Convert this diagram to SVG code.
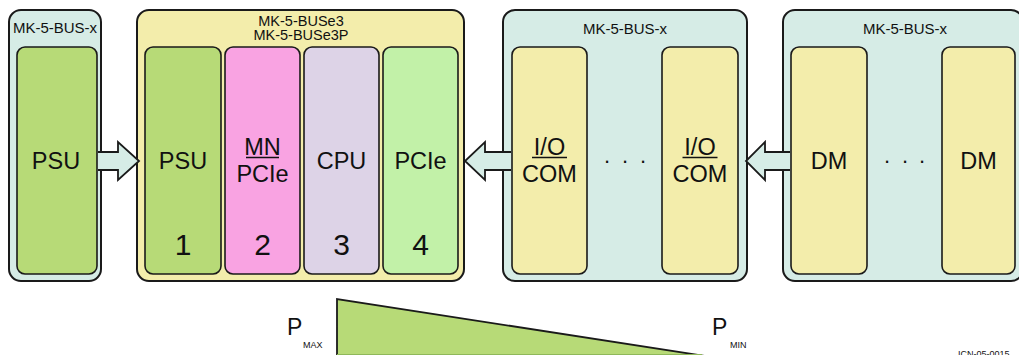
<svg xmlns="http://www.w3.org/2000/svg" width="1019" height="355" viewBox="0 0 1019 355">
<style>
text{font-family:"Liberation Sans",Arial,sans-serif;fill:#111}
.outer{stroke:#1a1a1a;stroke-width:2}
.inner{stroke:#1a1a1a;stroke-width:1.6}
.blue{fill:#d6ece6}
.yel{fill:#f3edab}
.psu{fill:#b7da77}
.mn{fill:#f9a3e2}
.cpu{fill:#ddd3e7}
.pcie{fill:#c2f1a8}
.ttl{font-size:15px;text-anchor:middle}
.ttl2{font-size:14.5px;text-anchor:middle}
.lbl{font-size:23.5px;text-anchor:middle}
.num{font-size:30px;text-anchor:middle}
.dots{font-size:22px;text-anchor:middle}
.ul{stroke:#111;stroke-width:1.7}
.arw{fill:#d6ece6;stroke:none}
.arwl{fill:none;stroke:#1a1a1a;stroke-width:1.8;stroke-linejoin:miter}
</style>
<g id="bus-left">
<rect class="outer blue" x="9" y="10" width="92" height="271" rx="12"/>
<text class="ttl" x="55" y="33">MK-5-BUS-x</text>
<g id="psu-left">
<rect class="inner psu" x="17" y="47" width="80" height="227" rx="8"/>
<text class="lbl" x="56" y="169">PSU</text>
</g>
</g>
<g id="bus-e3">
<rect class="outer yel" x="137" y="10" width="327" height="271" rx="12"/>
<text class="ttl2" x="301" y="26">MK-5-BUSe3</text>
<text class="ttl2" x="301" y="40">MK-5-BUSe3P</text>
<g id="slot1">
<rect class="inner psu" x="145" y="47" width="76" height="227" rx="8"/>
<text class="lbl" x="183" y="169">PSU</text>
<text class="num" x="183" y="255">1</text>
</g>
<g id="slot2">
<rect class="inner mn" x="225" y="47" width="75" height="227" rx="8"/>
<text class="lbl" x="262.5" y="155">MN</text>
<line class="ul" x1="246" y1="157.5" x2="279" y2="157.5"/>
<text class="lbl" x="262.5" y="182">PCIe</text>
<text class="num" x="262.5" y="255">2</text>
</g>
<g id="slot3">
<rect class="inner cpu" x="304" y="47" width="75" height="227" rx="8"/>
<text class="lbl" x="341.5" y="169">CPU</text>
<text class="num" x="341.5" y="255">3</text>
</g>
<g id="slot4">
<rect class="inner pcie" x="383" y="47" width="75" height="227" rx="8"/>
<text class="lbl" x="420.5" y="169">PCIe</text>
<text class="num" x="420.5" y="255">4</text>
</g>
</g>
<g id="bus-io">
<rect class="outer blue" x="503" y="10" width="244" height="271" rx="12"/>
<text class="ttl" x="625" y="34">MK-5-BUS-x</text>
<g id="io1">
<rect class="inner yel" x="512" y="47" width="75" height="227" rx="8"/>
<text class="lbl" x="549.5" y="155">I/O</text>
<line class="ul" x1="532" y1="157.5" x2="567" y2="157.5"/>
<text class="lbl" x="549.5" y="182">COM</text>
</g>
<text class="dots" x="607 625 643" y="163">...</text>
<g id="io2">
<rect class="inner yel" x="662" y="47" width="76" height="227" rx="8"/>
<text class="lbl" x="700" y="155">I/O</text>
<line class="ul" x1="682.5" y1="157.5" x2="717.5" y2="157.5"/>
<text class="lbl" x="700" y="182">COM</text>
</g>
</g>
<g id="bus-dm">
<rect class="outer blue" x="783" y="10" width="240" height="271" rx="12"/>
<text class="ttl" x="905" y="34">MK-5-BUS-x</text>
<g id="dm1">
<rect class="inner yel" x="791" y="47" width="76" height="227" rx="8"/>
<text class="lbl" x="829" y="169">DM</text>
</g>
<text class="dots" x="887 905 922" y="163">...</text>
<g id="dm2">
<rect class="inner yel" x="942" y="47" width="73" height="227" rx="8"/>
<text class="lbl" x="978.5" y="169">DM</text>
</g>
</g>
<g id="connectors">
<polygon class="arw" points="98,152 118,152 118,142 139,161 118,180 118,170 98,170"/>
<polyline class="arwl" points="98,152 118,152 118,142 139,161 118,180 118,170 98,170"/>
<polygon class="arw" points="511,152 485,152 485,142 465,161 485,180 485,170 511,170"/>
<polyline class="arwl" points="511,152 485,152 485,142 465,161 485,180 485,170 511,170"/>
<polygon class="arw" points="790,152 765,152 765,142 746,161 765,180 765,170 790,170"/>
<polyline class="arwl" points="790,152 765,152 765,142 746,161 765,180 765,170 790,170"/>
</g>
<g id="power-wedge">
<polygon points="337,299 337,356 705,356" fill="#b7da77"/>
<polyline points="337,356 337,299 705,356" fill="none" stroke="#1a1a1a" stroke-width="1.8"/>
<line x1="337" y1="354.5" x2="702" y2="354.5" stroke="#8fb85a" stroke-width="1"/>
<text x="287" y="335" font-size="23">P</text>
<text x="303" y="348" font-size="9">MAX</text>
<text x="712" y="335" font-size="23">P</text>
<text x="730" y="348" font-size="9">MIN</text>
</g>
<text x="958" y="357" font-size="9">ICN-05-0015</text>
</svg>
